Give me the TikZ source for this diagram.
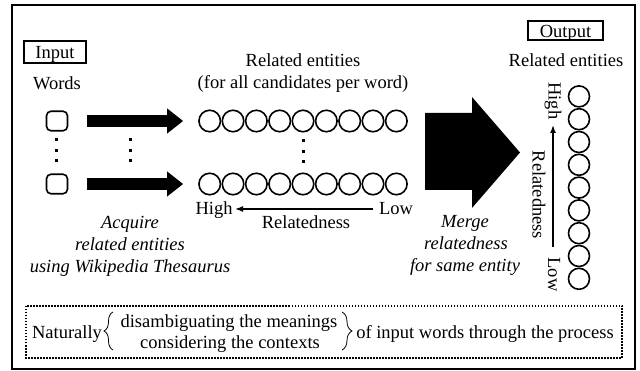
\documentclass[tikz,border=0pt]{standalone}
\usepackage{fontspec}
\setmainfont{Liberation Serif}
\usetikzlibrary{arrows.meta,decorations.pathreplacing}
\newcommand\myfs{\fontsize{18.5}{22}\selectfont}
\begin{document}
\begin{tikzpicture}[x=1pt,y=-1pt,
 txt/.style={inner sep=0pt,font=\myfs,anchor=base},
 itxt/.style={inner sep=0pt,font=\myfs\itshape,anchor=base},
 ent/.style={draw,circle,line width=1.6pt,minimum size=21.5pt,inner sep=0pt},
 wbox/.style={draw,line width=1.6pt,rounded corners=4.5pt,minimum width=21pt,minimum height=19.5pt,inner sep=0pt},
 lbox/.style={draw,line width=1.1pt,inner sep=0pt,font=\myfs},
 vdot/.style={fill,minimum size=3pt,inner sep=0pt},
 blockarrow/.style={line width=12pt,-{Triangle[length=16pt,width=24pt]}},
 relarrow/.style={line width=1.5pt,-{Latex[length=8pt,width=6pt]}},
 vtxt/.style={inner sep=0pt,font=\myfs,rotate=-90},
 bracestyle/.style={line width=0.8pt,decorate,decoration={brace,amplitude=#1}}
]
\useasboundingbox (0,0) rectangle (640,371);
\draw[line width=2pt] (12,5) rectangle (635,369);

% input side
\node[lbox,minimum width=62pt,minimum height=22pt,text height=16pt,text depth=2pt] (input) at (55,52) {Input};
\node[txt] (words) at (57,89.5) {Words};
\node[wbox] (w1) at (57,121) {};
\node[wbox] (w2) at (57,184) {};
\foreach \y [count=\i] in {140,150.5,161} {
  \node[vdot] (da\i) at (56,\y) {};
  \node[vdot] (db\i) at (130,\y) {};
  \node[vdot] (dc\i) at (303,\y+1) {};
}

% related entities
\node[txt] (rel) at (303,67) {Related entities};
\node[txt] (forall) at (303,89) {(for all candidates per word)};
\foreach \i in {1,...,9} {
  \node[ent] (a\i) at ({209.7+23.33*(\i-1)},121) {};
  \node[ent] (b\i) at ({209.7+23.33*(\i-1)},184) {};
}

% block arrows
\coordinate (s1) at (87,121);
\coordinate (s2) at (87,184);
\draw[blockarrow] (s1) -- ([xshift=-15pt]a1.west);
\draw[blockarrow] (s2) -- ([xshift=-15pt]b1.west);

% horizontal relatedness
\node[txt] (hi) at (214,215) {High};
\node[txt] (lo) at (396,215) {Low};
\node[txt] (relh) at (306,229) {Relatedness};
\coordinate (hstart) at (373,209);
\coordinate (hend) at (235,209);
\draw[relarrow] (hstart) -- (hend);

% acquire text
\node[itxt] (acq1) at (130,228.5) {Acquire};
\node[itxt] (acq2) at (130,250.5) {related entities};
\node[itxt] (acq3) at (130,272.5) {using Wikipedia Thesaurus};

% big arrow
\fill (425,113) -- (472,113) -- (472,97) -- (520,152.5) -- (472,208) -- (472,190) -- (425,190) -- cycle;

% merge text
\node[itxt] (m1) at (465,228) {Merge};
\node[itxt] (m2) at (466,250) {relatedness};
\node[itxt] (m3) at (465,272) {for same entity};

% output
\node[lbox,minimum width=75pt,minimum height=19pt,text height=16pt,text depth=1pt] (output) at (565.5,30.5) {Output};
\node[txt] (orel) at (566,67) {Related entities};
\foreach \i in {1,...,9} {
  \node[ent,minimum size=21pt] (o\i) at (579,{96.4+22.8*(\i-1)}) {};
}
\node[vtxt] (vhi) at (553,101) {High};
\node[vtxt] (vrel) at (539,195) {Relatedness};
\node[vtxt] (vlo) at (554,274.5) {Low};
\coordinate (vs) at (553,247);
\coordinate (ve) at (553,125);
\draw[relarrow] (vs) -- (ve);

% bottom dotted box
\draw[line width=1.5pt,dash pattern=on 1.5pt off 1.5pt] (26,306) rectangle (622,358);
\node[txt] (nat) at (67,339) {Naturally};
\node[txt] (dis1) at (229,328) {disambiguating the meanings};
\node[txt] (dis2) at (230,348.5) {considering the contexts};
\node[txt] (ofin) at (485,339) {of input words through the process};
\draw[bracestyle=9pt] (113,350) -- (113,312);
\draw[bracestyle=10pt] (342,312) -- (342,350);
\end{tikzpicture}
\end{document}
